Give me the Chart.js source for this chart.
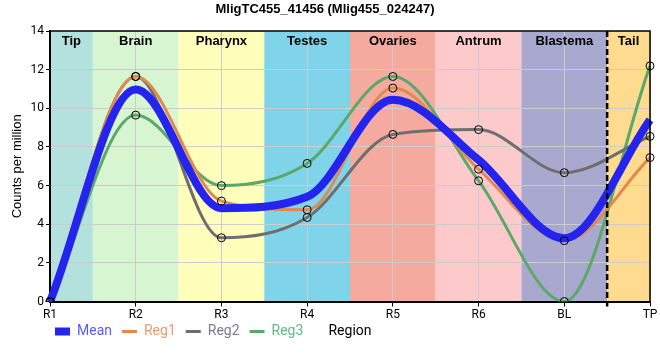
<!DOCTYPE html>
<html>
<head>
<meta charset="utf-8">
<script src="https://cdn.jsdelivr.net/npm/chart.js@4.4.1/dist/chart.umd.min.js"></script>
<style>
  html, body { margin: 0; padding: 0; background: #fff; }
  #wrap { width: 660px; height: 360px; }
</style>
</head>
<body>
<div id="wrap"><canvas id="chart" width="660" height="360"></canvas></div>
<script>
// Data
const regions = ['R1', 'R2', 'R3', 'R4', 'R5', 'R6', 'BL', 'TP'];
const meanVals = [0, 10.98, 4.83, 5.42, 10.45, 7.33, 3.27, 9.4];
const reg1Vals = [0, 11.65, 5.2, 4.75, 11.05, 6.85, 3.15, 7.45];
const reg2Vals = [0, 11.65, 3.3, 4.35, 8.65, 8.9, 6.67, 8.55];
const reg3Vals = [0, 9.65, 6.0, 7.15, 11.65, 6.25, 0, 12.2];

// Tissue bands (in category units)
const bandNames = ['Tip', 'Brain', 'Pharynx', 'Testes', 'Ovaries', 'Antrum', 'Blastema', 'Tail'];
const bandFrom = [0, 0.5, 1.5, 2.5, 3.5, 4.5, 5.5, 6.5];
const bandTo = [0.5, 1.5, 2.5, 3.5, 4.5, 5.5, 6.5, 7];
const bandColors = ['#b3e2de', '#d7f5d0', '#ffffbb', '#80d4ea', '#f4aa9f', '#fdcacb', '#a9a8cf', '#fedb8f'];
const cutAt = 6.5; // dashed separator

// Series styles
const series = [
    { label: 'Mean', data: meanVals, color: '#2424ee', text: '#5a5aff', width: 8 },
    { label: 'Reg1', data: reg1Vals, color: '#e08a4e', text: '#e99a6c', width: 3 },
    { label: 'Reg2', data: reg2Vals, color: '#6e6e6e', text: '#7c7c8c', width: 3 },
    { label: 'Reg3', data: reg3Vals, color: '#5aa86a', text: '#62bb86', width: 3 }
];

const datasets = series.map((s, i) => ({
    label: s.label,
    data: s.data,
    borderColor: s.color,
    backgroundColor: s.color,
    borderWidth: s.width,
    cubicInterpolationMode: 'monotone',
    pointRadius: 0,
    fill: false,
    order: i === 0 ? 1 : 2,
    textColor: s.text
}));

// circle markers on top of every line
series.slice(1).forEach(s => {
    datasets.push({
        label: s.label + ' pts',
        data: s.data,
        showLine: false,
        pointRadius: 4,
        pointBorderWidth: 1,
        pointBorderColor: '#000',
        pointBackgroundColor: 'rgba(0,0,0,0)',
        order: 0,
        isMarker: true
    });
});

const bandsPlugin = {
    id: 'bands',
    afterLayout(chart) {
        chart.legend.left -= 5;
        chart.legend.top -= 5;
    },
    beforeDraw(chart) {
        const { ctx, chartArea: a, scales: { x } } = chart;
        ctx.save();
        bandNames.forEach((name, i) => {
            const x0 = x.getPixelForValue(bandFrom[i]);
            const x1 = x.getPixelForValue(bandTo[i]);
            ctx.fillStyle = bandColors[i];
            ctx.fillRect(x0, a.top, x1 - x0, a.bottom - a.top);
        });
        ctx.restore();
    },
    afterDatasetsDraw(chart) {
        const { ctx, chartArea: a, scales: { x } } = chart;
        ctx.save();
        ctx.fillStyle = '#000';
        ctx.font = 'bold 13px "Liberation Sans", Arial, sans-serif';
        ctx.textAlign = 'center';
        ctx.textBaseline = 'middle';
        bandNames.forEach((name, i) => {
            const cx = (x.getPixelForValue(bandFrom[i]) + x.getPixelForValue(bandTo[i])) / 2;
            ctx.fillText(name, cx, a.top + 10);
        });
        // dashed separator
        const xc = x.getPixelForValue(cutAt);
        ctx.strokeStyle = '#000';
        ctx.lineWidth = 2.5;
        ctx.setLineDash([6, 3]);
        ctx.beginPath();
        ctx.moveTo(xc, a.top);
        ctx.lineTo(xc, a.bottom + 5);
        ctx.stroke();
        ctx.setLineDash([]);
        // frame top / right
        ctx.lineWidth = 1.5;
        ctx.beginPath();
        ctx.moveTo(a.left, a.top);
        ctx.lineTo(a.right, a.top);
        ctx.lineTo(a.right, a.bottom);
        ctx.stroke();
        ctx.restore();
    },
    afterDraw(chart) {
        const { ctx, chartArea: a } = chart;
        const hb = chart.legend.legendHitBoxes[0];
        if (!hb) return;
        ctx.save();
        ctx.fillStyle = '#000';
        ctx.font = '14px Roboto, sans-serif';
        ctx.textAlign = 'center';
        ctx.textBaseline = 'middle';
        ctx.fillText('Region', (a.left + a.right) / 2, hb.top + hb.height / 2);
        ctx.restore();
    }
};

const ctx = document.getElementById('chart').getContext('2d');
new Chart(ctx, {
    type: 'line',
    data: { labels: regions, datasets: datasets },
    plugins: [bandsPlugin],
    options: {
        responsive: false,
        animation: false,
        events: [],
        layout: { padding: { left: 0, right: 10, top: 0, bottom: 6.5 } },
        plugins: {
            tooltip: { enabled: false },
            title: {
                display: true,
                text: 'MligTC455_41456 (Mlig455_024247)',
                color: '#000',
                font: { family: '"Liberation Sans", Arial, sans-serif', size: 13, weight: 'bold' },
                padding: { top: 2, bottom: 13.5 }
            },
            legend: {
                display: true,
                position: 'bottom',
                align: 'start',
                fullSize: false,
                labels: {
                    usePointStyle: true,
                    pointStyleWidth: 15,
                    padding: 10,
                    font: { family: 'Roboto, sans-serif', size: 14 },
                    generateLabels(chart) {
                        return chart.data.datasets
                            .map((ds, i) => ({ ds, i }))
                            .filter(o => !o.ds.isMarker)
                            .map(o => ({
                                text: o.ds.label,
                                fontColor: o.ds.textColor,
                                strokeStyle: o.ds.borderColor,
                                fillStyle: o.ds.borderColor,
                                lineWidth: o.ds.borderWidth,
                                pointStyle: 'line',
                                hidden: false,
                                datasetIndex: o.i
                            }));
                    }
                }
            }
        },
        scales: {
            x: {
                afterFit(scale) { scale.height = 18; },
                grid: { color: '#cccccc', tickColor: '#000', tickLength: 5 },
                border: { color: '#000', width: 2 },
                ticks: { color: '#000', padding: 1, maxRotation: 0, font: { family: 'Roboto, sans-serif', size: 12 } }
            },
            y: {
                min: 0,
                max: 14,
                afterFit(scale) { scale.width = 50; },
                grid: { color: '#cccccc', tickColor: '#000', tickLength: 4 },
                border: { color: '#000', width: 2 },
                ticks: { stepSize: 2, color: '#000', padding: 2, font: { family: 'Roboto, sans-serif', size: 12 } },
                title: {
                    display: true,
                    text: 'Counts per million',
                    color: '#000',
                    font: { family: '"Liberation Sans", Arial, sans-serif', size: 13 },
                    padding: { top: 10, bottom: 0 }
                }
            }
        }
    }
});
</script>
</body>
</html>
